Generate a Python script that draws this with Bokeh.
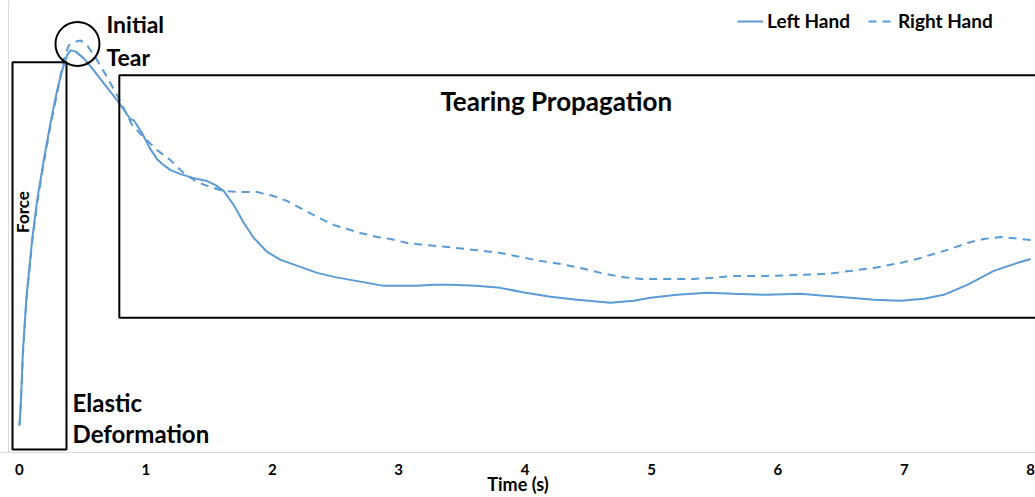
import numpy as np
from bokeh.plotting import figure
from bokeh.models import Range1d, Span, FixedTicker, Legend, LegendItem
from bokeh.core.properties import value
from bokeh.embed import file_html
from bokeh.resources import INLINE

# ---- data (Time in s, Force in arbitrary units) ----
left_t = [0.000, 0.012, 0.028, 0.055, 0.100, 0.140, 0.192, 0.245, 0.298, 0.338,
          0.377, 0.403, 0.443, 0.509, 0.588, 0.667, 0.773, 0.878, 0.904, 0.971,
          1.036, 1.089, 1.142, 1.195, 1.274, 1.379, 1.485, 1.551, 1.617, 1.695,
          1.775, 1.854, 1.960, 2.065, 2.223, 2.355, 2.487, 2.619, 2.751, 2.882,
          3.014, 3.146, 3.278, 3.410, 3.610, 3.805, 4.003, 4.201, 4.412, 4.676,
          4.860, 4.992, 5.203, 5.441, 5.651, 5.915, 6.179, 6.363, 6.574, 6.759,
          6.970, 7.154, 7.312, 7.498, 7.708, 7.919, 8.000]
left_f = [3.2, 5.8, 10.8, 16.0, 21.8, 25.8, 29.8, 33.5, 36.8, 38.8,
          40.3, 40.8, 40.7, 40.0, 38.8, 37.5, 35.8, 33.9, 33.8, 32.5,
          30.9, 29.9, 29.3, 28.8, 28.4, 28.0, 27.7, 27.3, 26.7, 25.3,
          23.5, 22.0, 20.6, 19.8, 19.1, 18.5, 18.1, 17.8, 17.5, 17.2,
          17.2, 17.2, 17.3, 17.3, 17.2, 17.0, 16.5, 16.1, 15.8, 15.5,
          15.7, 16.0, 16.3, 16.5, 16.4, 16.3, 16.4, 16.2, 16.0, 15.8,
          15.7, 15.9, 16.3, 17.3, 18.7, 19.6, 19.9]

right_t = [0.000, 0.012, 0.028, 0.055, 0.100, 0.140, 0.192, 0.245, 0.298, 0.348,
           0.390, 0.440, 0.483, 0.530, 0.601, 0.694, 0.786, 0.892, 0.983, 1.089,
           1.195, 1.300, 1.406, 1.511, 1.616, 1.748, 1.881, 2.012, 2.118, 2.223,
           2.355, 2.487, 2.593, 2.698, 2.830, 2.935, 3.067, 3.199, 3.384, 3.600,
           3.805, 3.964, 4.122, 4.280, 4.438, 4.597, 4.755, 4.913, 5.124, 5.335,
           5.493, 5.651, 5.915, 6.179, 6.390, 6.574, 6.759, 6.970, 7.102, 7.233,
           7.366, 7.498, 7.629, 7.761, 7.919, 8.000]
right_f = [3.2, 5.6, 10.5, 15.7, 21.5, 25.5, 29.5, 33.2, 36.5, 39.8,
           41.3, 41.65, 41.8, 41.4, 40.1, 38.1, 36.0, 33.3, 32.1, 30.8,
           29.8, 28.5, 27.6, 27.1, 26.7, 26.6, 26.6, 26.2, 25.7, 25.0,
           24.1, 23.3, 22.9, 22.5, 22.1, 21.9, 21.5, 21.3, 21.1, 20.8,
           20.5, 20.1, 19.7, 19.4, 19.0, 18.5, 18.1, 17.9, 17.9, 17.9,
           18.0, 18.2, 18.2, 18.3, 18.4, 18.7, 19.0, 19.5, 19.9, 20.4,
           20.9, 21.5, 21.9, 22.1, 21.9, 21.8]

tick_values = [0, 1, 2, 3, 4, 5, 6, 7, 8]
series_names = ["Left Hand", "Right Hand"]

# phase regions (Time, Force)
elastic_box = dict(left=-0.055, right=0.372, bottom=0.8, top=39.6)
tear_box = dict(left=0.79, right=8.3, bottom=14.0, top=38.3)
tear_point = (0.459, 41.45)

BLUE = "#5B9BD5"
FONT = "Lato"

p = figure(width=1035, height=497, output_backend="svg", toolbar_location=None,
           x_range=Range1d(-0.150, 8.038), y_range=Range1d(0.5, 45.8),
           min_border_left=0, min_border_right=0, min_border_top=0, min_border_bottom=0)
p.outline_line_color = None
p.grid.visible = False
p.yaxis.visible = False

ax = p.xaxis[0]
ax.ticker = FixedTicker(ticks=tick_values)
ax.axis_line_color = "#D9D9D9"
ax.major_tick_line_color = None
ax.minor_tick_line_color = None
ax.major_label_text_font = FONT
ax.major_label_text_font_style = "bold"
ax.major_label_text_font_size = "15px"
ax.major_label_text_color = "black"
ax.major_label_standoff = 5
ax.axis_label = "Time (s)"
ax.axis_label_text_font = FONT
ax.axis_label_text_font_style = "bold"
ax.axis_label_text_font_size = "18px"
ax.axis_label_text_color = "black"
ax.axis_label_standoff = -5

p.add_layout(Span(location=-0.087, dimension="height", line_color="#D9D9D9", line_width=1))

# series
r1 = p.line(left_t, left_f, line_color=BLUE, line_width=2)
r2 = p.line(right_t, right_f, line_color=BLUE, line_width=2, line_dash="8 6")

legend = Legend(items=[LegendItem(label=series_names[0], renderers=[r1]),
                       LegendItem(label=series_names[1], renderers=[r2])],
                location=(737, 420), orientation="horizontal",
                border_line_color=None, background_fill_alpha=0,
                padding=0, margin=0, spacing=18, glyph_width=26, label_standoff=4,
                label_text_font=FONT, label_text_font_style="bold",
                label_text_font_size="19px", label_text_color="black")
p.add_layout(legend, "center")

# annotation boxes
p.quad(left=[elastic_box["left"]], right=[elastic_box["right"]],
       bottom=[elastic_box["bottom"]], top=[elastic_box["top"]],
       fill_color=None, line_color="black", line_width=2)
p.quad(left=[tear_box["left"]], right=[tear_box["right"]],
       bottom=[tear_box["bottom"]], top=[tear_box["top"]],
       fill_color=None, line_color="black", line_width=2)
p.circle(x=[tear_point[0]], y=[tear_point[1]], radius=22, radius_units="screen",
         fill_color=None, line_color="black", line_width=2)

def label(x, y, txt, size, align="left", angle=0):
    p.text(x=[x], y=[y], text=[txt], text_font=value(FONT), text_font_style="bold",
           text_font_size=size, text_color="black", text_align=align,
           text_baseline="middle", angle=angle)

label(0.688, 43.4, "Initial", "23px")
label(0.688, 40.1, "Tear", "23px")
label(3.33, 35.7, "Tearing Propagation", "26px")
label(0.42, 5.5, "Elastic", "24px")
label(0.42, 2.4, "Deformation", "24px")
label(0.024, 24.6, "Force", "17px", align="center", angle=np.pi / 2)

open("out.html", "w").write(file_html(p, INLINE))
